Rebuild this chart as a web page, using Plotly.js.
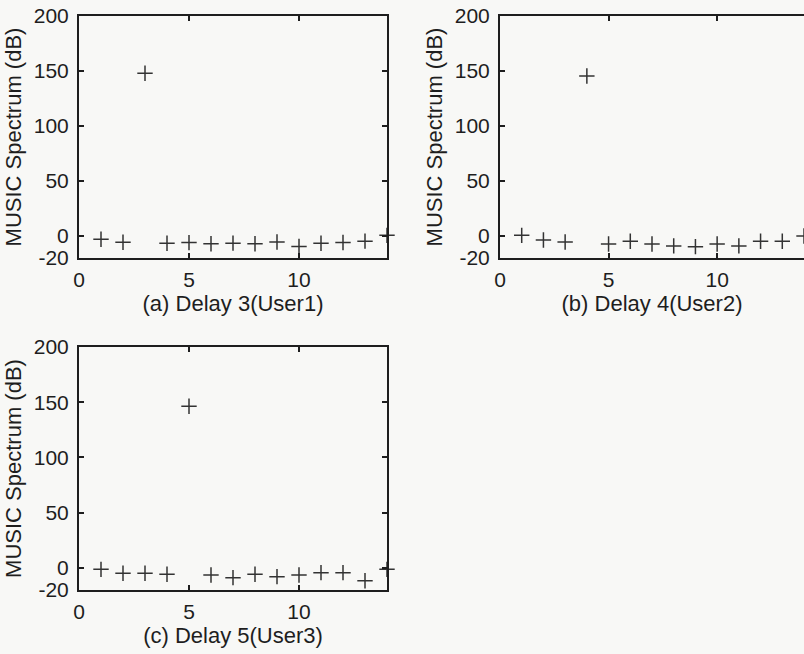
<!DOCTYPE html>
<html>
<head>
<meta charset="utf-8">
<script src="https://cdn.plot.ly/plotly-3.0.1.min.js"></script>
<style>html,body{margin:0;padding:0;background:#f8f8f6;}#chart{width:804px;height:654px;}</style>
</head>
<body>
<div id="chart"></div>
<script>
// Data
const xIndex = [1, 2, 3, 4, 5, 6, 7, 8, 9, 10, 11, 12, 13, 14];
const delay3User1 = [-3, -5.7, 148, -6.6, -6, -7, -6.5, -7, -5.5, -9.5, -6.6, -5.9, -4.7, 0.6];
const delay4User2 = [0.6, -3.6, -5.5, 145.5, -7.3, -4.8, -7.3, -9, -9.7, -7.3, -9, -4.8, -4.8, 0];
const delay5User3 = [-1.3, -4.9, -4.9, -5.8, 146.4, -6.4, -8.8, -5.8, -7.9, -6.4, -4.3, -4.3, -11.6, -1.3];
const yTicks = [-20, 0, 50, 100, 150, 200];
const xTicks = [0, 5, 10];
const captions = ['(a) Delay 3(User1)', '(b) Delay 4(User2)', '(c) Delay 5(User3)'];
const yLabel = 'MUSIC Spectrum (dB)';

const ink = '#1e1e1e';
const fontFam = 'Liberation Sans, Arial, sans-serif';

function trace(y, xa, ya) {
  return {
    x: xIndex, y: y, xaxis: xa, yaxis: ya,
    type: 'scatter', mode: 'markers', cliponaxis: false,
    marker: {symbol: 'cross-thin-open', size: 11, color: '#333', line: {width: 1.5, color: '#333'}},
    hoverinfo: 'x+y', showlegend: false
  };
}

function xAxis(domain, range, anchor, caption) {
  return {
    domain: domain, range: range, anchor: anchor,
    tickvals: xTicks, ticktext: xTicks.map(String),
    ticks: 'inside', ticklen: 5, tickwidth: 1.5, tickcolor: ink,
    showline: true, linecolor: ink, linewidth: 2, mirror: 'ticks',
    showgrid: false, zeroline: false,
    tickfont: {family: fontFam, size: 21, color: ink},
    ticklabelstandoff: 2,
    title: {text: caption, font: {family: fontFam, size: 22, color: ink}, standoff: 4},
    automargin: false, fixedrange: true
  };
}

function yAxis(domain, anchor, mirror) {
  return {
    domain: domain, range: [-20, 200], anchor: anchor,
    tickvals: yTicks, ticktext: yTicks.map(String),
    ticks: 'inside', ticklen: 5, tickwidth: 1.5, tickcolor: ink,
    showline: true, linecolor: ink, linewidth: 2, mirror: mirror,
    showgrid: false, zeroline: false,
    tickfont: {family: fontFam, size: 21, color: ink},
    ticklabelstandoff: 4,
    title: {text: yLabel, font: {family: fontFam, size: 22, color: ink}, standoff: 6},
    automargin: false, fixedrange: true
  };
}

const W = 804, H = 654;
const dA = [79 / W, 387 / W];
const dB = [500 / W, 1.0];
const yTop = [1 - 258 / H, 1 - 16 / H];
const yBot = [1 - 590 / H, 1 - 347 / H];

const data = [
  trace(delay3User1, 'x', 'y'),
  trace(delay4User2, 'x2', 'y2'),
  trace(delay5User3, 'x3', 'y3')
];

const layout = {
  width: W, height: H,
  margin: {l: 0, r: 0, t: 0, b: 0},
  paper_bgcolor: '#f8f8f6', plot_bgcolor: '#f8f8f6',
  font: {family: fontFam, color: ink},
  xaxis: xAxis(dA, [0, 14], 'y', captions[0]),
  yaxis: yAxis(yTop, 'x', 'ticks'),
  xaxis2: xAxis(dB, [0, 14], 'y2', captions[1]),
  yaxis2: yAxis(yTop, 'x2', false),
  xaxis3: xAxis(dA, [0, 14], 'y3', captions[2]),
  yaxis3: yAxis(yBot, 'x3', 'ticks')
};

Plotly.newPlot('chart', data, layout, {displayModeBar: false});
</script>
</body>
</html>
